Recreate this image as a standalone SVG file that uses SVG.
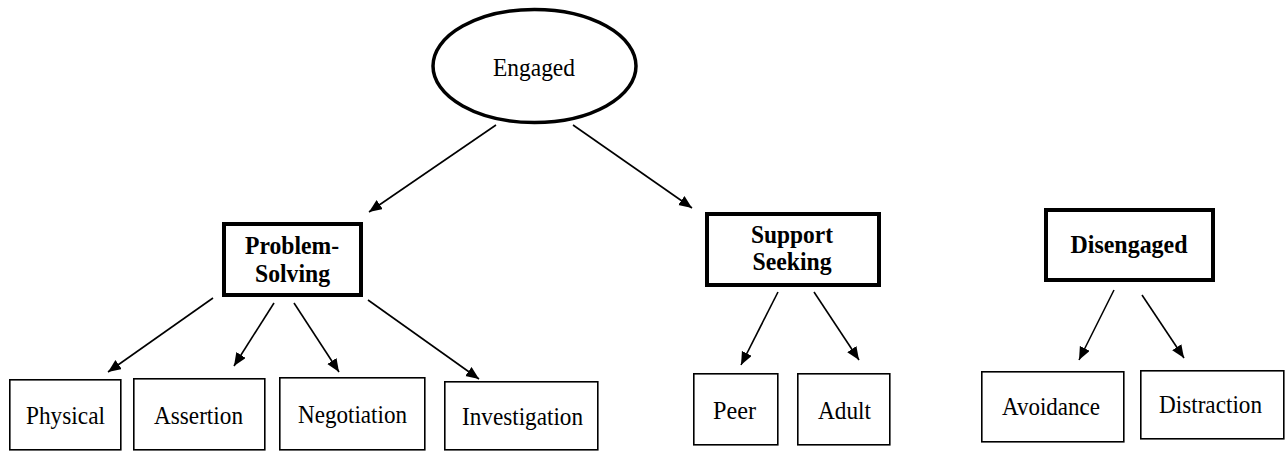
<svg xmlns="http://www.w3.org/2000/svg" width="1286" height="451" viewBox="0 0 1286 451">
<style>
.bg{fill:#ffffff}
.thin{fill:#ffffff;stroke:#000000;stroke-width:1.6}
.thick{fill:#ffffff;stroke:#000000;stroke-width:4}
.oval{fill:#ffffff;stroke:#000000;stroke-width:3.5}
.edge{stroke:#000000;stroke-width:1.6;fill:none;marker-end:url(#ah)}
</style>
<defs>
<marker id="ah" markerUnits="userSpaceOnUse" markerWidth="14" markerHeight="12" refX="13" refY="5.5" orient="auto">
<path d="M0,0 L13,5.5 L0,11 z" fill="#000000"/>
</marker>
</defs>
<rect class="bg" x="0" y="0" width="1286" height="451"/>
<g id="connectors">
<line class="edge" x1="496" y1="125" x2="369" y2="212"/>
<line class="edge" x1="573" y1="125" x2="692" y2="208"/>
<line class="edge" x1="213" y1="298" x2="108" y2="372"/>
<line class="edge" x1="274" y1="303" x2="234" y2="366"/>
<line class="edge" x1="294" y1="303" x2="339" y2="372"/>
<line class="edge" x1="368" y1="300" x2="479" y2="379"/>
<line class="edge" x1="778" y1="292" x2="741" y2="365"/>
<line class="edge" x1="814" y1="292" x2="859" y2="360"/>
<line class="edge" x1="1114" y1="290" x2="1079" y2="360"/>
<line class="edge" x1="1142" y1="295" x2="1184" y2="358"/>
</g>
<g font-size="26" fill="#000000" text-anchor="middle">
<g id="engaged">
<ellipse class="oval" cx="534.5" cy="66" rx="101.5" ry="56.5"/>
<text style="font-family:'Liberation Serif',serif" x="534" y="76" textLength="82" lengthAdjust="spacingAndGlyphs">Engaged</text>
</g>
<g id="problem-solving" font-weight="bold">
<rect class="thick" x="224" y="224" width="137" height="71"/>
<text style="font-family:'Liberation Serif',serif" x="292" y="254" textLength="94" lengthAdjust="spacingAndGlyphs">Problem-</text>
<text style="font-family:'Liberation Serif',serif" x="292.5" y="282" textLength="75" lengthAdjust="spacingAndGlyphs">Solving</text>
</g>
<g id="support-seeking" font-weight="bold">
<rect class="thick" x="707" y="214" width="172" height="71"/>
<text style="font-family:'Liberation Serif',serif" x="792" y="243" textLength="82" lengthAdjust="spacingAndGlyphs">Support</text>
<text style="font-family:'Liberation Serif',serif" x="792" y="270" textLength="79" lengthAdjust="spacingAndGlyphs">Seeking</text>
</g>
<g id="disengaged" font-weight="bold">
<rect class="thick" x="1046" y="210" width="167" height="70"/>
<text style="font-family:'Liberation Serif',serif" x="1129" y="253" textLength="117" lengthAdjust="spacingAndGlyphs">Disengaged</text>
</g>
<g id="physical">
<rect class="thin" x="9.8" y="379.8" width="111" height="70"/>
<text style="font-family:'Liberation Serif',serif" x="65.5" y="424" textLength="79" lengthAdjust="spacingAndGlyphs">Physical</text>
</g>
<g id="assertion">
<rect class="thin" x="133.8" y="378.8" width="131" height="71"/>
<text style="font-family:'Liberation Serif',serif" x="198.5" y="424" textLength="89" lengthAdjust="spacingAndGlyphs">Assertion</text>
</g>
<g id="negotiation">
<rect class="thin" x="279.8" y="377.8" width="145" height="72"/>
<text style="font-family:'Liberation Serif',serif" x="352.5" y="423" textLength="109" lengthAdjust="spacingAndGlyphs">Negotiation</text>
</g>
<g id="investigation">
<rect class="thin" x="444.8" y="381.8" width="153" height="68"/>
<text style="font-family:'Liberation Serif',serif" x="522.5" y="425" textLength="121" lengthAdjust="spacingAndGlyphs">Investigation</text>
</g>
<g id="peer">
<rect class="thin" x="693.8" y="373.8" width="84" height="71"/>
<text style="font-family:'Liberation Serif',serif" x="734.5" y="419" textLength="43" lengthAdjust="spacingAndGlyphs">Peer</text>
</g>
<g id="adult">
<rect class="thin" x="797.8" y="373.8" width="92" height="71"/>
<text style="font-family:'Liberation Serif',serif" x="844.5" y="419" textLength="53" lengthAdjust="spacingAndGlyphs">Adult</text>
</g>
<g id="avoidance">
<rect class="thin" x="981.8" y="371.8" width="142" height="70"/>
<text style="font-family:'Liberation Serif',serif" x="1051" y="415" textLength="98" lengthAdjust="spacingAndGlyphs">Avoidance</text>
</g>
<g id="distraction">
<rect class="thin" x="1140.8" y="370.8" width="143" height="68"/>
<text style="font-family:'Liberation Serif',serif" x="1210.5" y="413" textLength="103" lengthAdjust="spacingAndGlyphs">Distraction</text>
</g>
</g>
</svg>
